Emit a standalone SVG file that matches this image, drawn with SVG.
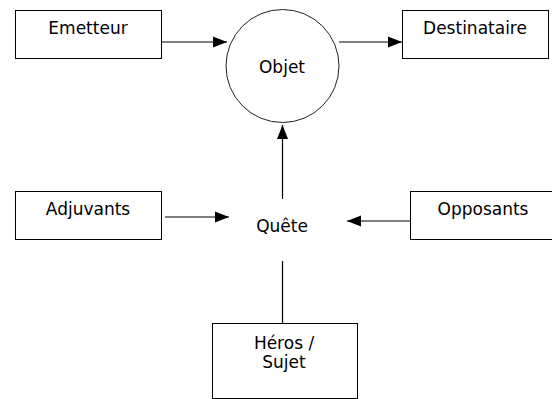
<svg xmlns="http://www.w3.org/2000/svg" width="552" height="399" viewBox="0 0 552 399">
<style>
.box{fill:#fff;stroke:#000;stroke-width:1}
.lbl{font-family:"DejaVu Sans","Verdana",sans-serif;font-size:17px;fill:#000;text-anchor:middle}
.con{stroke:#000;stroke-width:1.2;fill:none}
</style>
<defs>
<marker id="arr" markerUnits="userSpaceOnUse" markerWidth="14" markerHeight="12" refX="14" refY="6" orient="auto">
<path d="M0,0.5 L14,6 L0,11.5 z" fill="#000"/>
</marker>
</defs>
<rect width="552" height="399" fill="#fff"/>
<g id="connectors">
<line class="con" x1="161" y1="42" x2="227" y2="42" marker-end="url(#arr)"/>
<line class="con" x1="339" y1="42" x2="402" y2="42" marker-end="url(#arr)"/>
<line class="con" x1="282.5" y1="199" x2="282.5" y2="125" marker-end="url(#arr)"/>
<line class="con" x1="165" y1="217" x2="229" y2="217" marker-end="url(#arr)"/>
<line class="con" x1="410" y1="221" x2="347" y2="221" marker-end="url(#arr)"/>
<line class="con" x1="282.5" y1="261" x2="282.5" y2="323"/>
</g>
<g id="emetteur">
<rect class="box" x="15.5" y="10.5" width="146" height="48"/>
<text class="lbl" x="88" y="34">Emetteur</text>
</g>
<g id="objet">
<circle cx="282.5" cy="66" r="56.5" fill="#fff" stroke="#222" stroke-width="1"/>
<text class="lbl" x="282" y="73">Objet</text>
</g>
<g id="destinataire">
<rect class="box" x="402.5" y="10.5" width="146" height="48"/>
<text class="lbl" x="475" y="34">Destinataire</text>
</g>
<g id="adjuvants">
<rect class="box" x="15.5" y="191.5" width="146" height="48"/>
<text class="lbl" x="88" y="215">Adjuvants</text>
</g>
<g id="quete">
<text class="lbl" x="282" y="232">Quête</text>
</g>
<g id="opposants">
<rect class="box" x="410.5" y="191.5" width="146" height="48"/>
<text class="lbl" x="483" y="215">Opposants</text>
</g>
<g id="heros">
<rect class="box" x="212.5" y="323.5" width="145" height="75"/>
<text class="lbl" x="284" y="349">Héros /</text>
<text class="lbl" x="284" y="368">Sujet</text>
</g>
</svg>
